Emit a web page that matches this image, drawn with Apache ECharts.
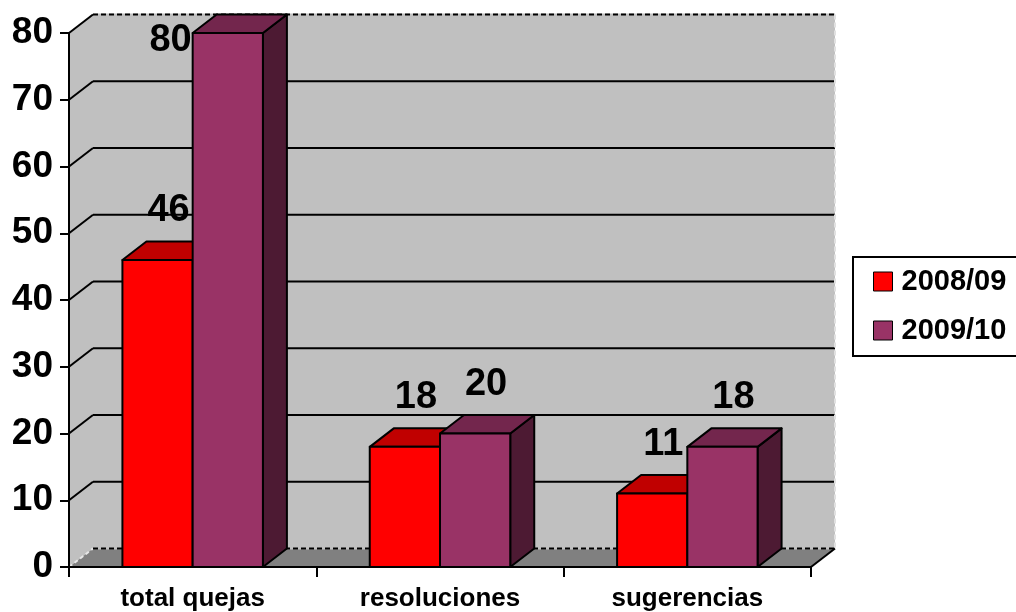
<!DOCTYPE html>
<html>
<head>
<meta charset="utf-8">
<script src="https://cdn.jsdelivr.net/npm/echarts@6/dist/echarts.min.js"></script>
<style>
  html, body { margin: 0; padding: 0; background: #ffffff; }
  #chart { width: 1016px; height: 612px; }
</style>
</head>
<body>
<div id="chart"></div>
<script>
// ---- data ----
const categories = ['total quejas', 'resoluciones', 'sugerencias'];
const seriesNames = ['2008/09', '2009/10'];
const values0809 = [46, 18, 11];
const values0910 = [80, 20, 18];
const yTicks = [0, 10, 20, 30, 40, 50, 60, 70, 80];

// ---- style ----
const FONT = "'Liberation Sans', Arial, Helvetica, sans-serif";
const DX = 24;       // depth offset of the back plane, x
const DY = -18.5;    // depth offset of the back plane, y
const BAR_SHARE = 0.284; // width of one bar as a share of the category band

const palettes = [
  { front: '#ff0000', top: '#c00000', side: '#800000' },
  { front: '#993366', top: '#73264d', side: '#4d1a33' }
];

const chart = echarts.init(document.getElementById('chart'), null, { renderer: 'canvas' });

// walls, floor and gridlines of the 3-D box
function renderRoom(params, api) {
  const cs = params.coordSys;
  const L = cs.x, R = cs.x + cs.width;
  const yOf = v => api.coord([0, v])[1];
  const vMax = yTicks[yTicks.length - 1];
  const y0 = yOf(0), yM = yOf(vMax);
  const kids = [];

  kids.push({ type: 'polygon', shape: { points: [[L + DX, yM + DY], [R + DX, yM + DY], [R + DX, y0 + DY], [L + DX, y0 + DY]] },
              style: { fill: '#c0c0c0' } });
  kids.push({ type: 'polygon', shape: { points: [[L, y0], [L + DX, y0 + DY], [L + DX, yM + DY], [L, yM]] },
              style: { fill: '#c0c0c0' } });
  kids.push({ type: 'polygon', shape: { points: [[L, y0], [R, y0], [R + DX, y0 + DY], [L + DX, y0 + DY]] },
              style: { fill: '#808080' } });

  yTicks.forEach(v => {
    const y = yOf(v);
    if (v > 0 && v < vMax) {
      kids.push({ type: 'line', shape: { x1: L + DX, y1: y + DY, x2: R + DX, y2: y + DY },
                  style: { stroke: '#000', lineWidth: 2 } });
    }
    if (v > 0) {
      kids.push({ type: 'line', shape: { x1: L, y1: y, x2: L + DX, y2: y + DY },
                  style: { stroke: '#000', lineWidth: 2 } });
    } else {
      kids.push({ type: 'line', shape: { x1: L, y1: y, x2: L + DX, y2: y + DY },
                  style: { stroke: '#e8e8e8', lineWidth: 2, lineDash: [4, 3] } });
    }
  });

  // dashed top and right edges of the back wall, dashed back edge of the floor
  kids.push({ type: 'line', shape: { x1: L + DX, y1: yM + DY, x2: R + DX, y2: yM + DY },
              style: { stroke: '#c0c0c0', lineWidth: 2 } });
  kids.push({ type: 'line', shape: { x1: L + DX, y1: yM + DY, x2: R + DX, y2: yM + DY },
              style: { stroke: '#000', lineWidth: 2, lineDash: [5, 3] } });
  kids.push({ type: 'line', shape: { x1: R + DX, y1: yM + DY, x2: R + DX, y2: y0 + DY },
              style: { stroke: '#e0e0e0', lineWidth: 2, lineDash: [5, 3] } });
  kids.push({ type: 'line', shape: { x1: L + DX, y1: y0 + DY, x2: R + DX, y2: y0 + DY },
              style: { stroke: '#c0c0c0', lineWidth: 2 } });
  kids.push({ type: 'line', shape: { x1: L + DX, y1: y0 + DY, x2: R + DX, y2: y0 + DY },
              style: { stroke: '#000', lineWidth: 2, lineDash: [5, 3] } });
  kids.push({ type: 'line', shape: { x1: R, y1: y0, x2: R + DX, y2: y0 + DY },
              style: { stroke: '#000', lineWidth: 2 } });

  return { type: 'group', children: kids };
}

// one 3-D bar with its value label
function barRenderer(si) {
  return function (params, api) {
    const cat = api.value(0), val = api.value(1);
    const band = api.size([1, 0])[0];
    const w = band * BAR_SHARE;
    const c = api.coord([cat, val]);
    const base = api.coord([cat, 0])[1];
    const x0 = si === 0 ? c[0] - w : c[0];
    const x1 = x0 + w;
    const yt = c[1];
    const pal = palettes[si];
    const edge = { stroke: '#000', lineWidth: 2, lineJoin: 'round' };

    const side = { type: 'polygon',
      shape: { points: [[x1, yt], [x1 + DX, yt + DY], [x1 + DX, base + DY], [x1, base]] },
      style: Object.assign({ fill: pal.side }, edge) };
    const top = { type: 'polygon',
      shape: { points: [[x0, yt], [x1, yt], [x1 + DX, yt + DY], [x0 + DX, yt + DY]] },
      style: Object.assign({ fill: pal.top }, edge) };
    const front = { type: 'rect',
      shape: { x: x0, y: yt, width: w, height: base - yt },
      style: Object.assign({ fill: pal.front }, edge) };

    // label sits above the bar; if it would leave the box, it moves beside the bar
    const boxTop = params.coordSys.y + DY;
    let lx = x0 + w / 2 + 11, ly = yt - 49, align = 'center';
    if (ly - 14 < boxTop) { lx = x0 - 1; ly = yt + 8; align = 'right'; }
    const label = { type: 'text', z2: 20,
      style: { text: String(val), x: lx, y: ly, align: align, verticalAlign: 'middle',
               fontFamily: FONT, fontWeight: 'bold', fontSize: 38, fill: '#000' } };

    return { type: 'group', children: [side, top, front, label] };
  };
}

const axisLabelStyle = { color: '#000', fontFamily: FONT, fontWeight: 'bold' };

chart.setOption({
  animation: false,
  backgroundColor: '#ffffff',
  grid: { left: 69, right: 205, top: 33, bottom: 45, containLabel: false },
  legend: {
    data: seriesNames,
    orient: 'vertical',
    left: 853, top: 257,
    padding: [10, 40, 11, 20],
    itemGap: 20,
    itemWidth: 19, itemHeight: 19,
    icon: 'rect',
    borderColor: '#000', borderWidth: 2,
    itemStyle: { borderColor: '#000', borderWidth: 1 },
    textStyle: { color: '#000', fontFamily: FONT, fontWeight: 'bold', fontSize: 29, lineHeight: 29, padding: [0, 0, 0, 4] }
  },
  xAxis: {
    type: 'category',
    data: categories,
    z: 10,
    axisLine: { lineStyle: { color: '#000', width: 2 } },
    axisTick: { show: true, length: 10, lineStyle: { color: '#000', width: 2 } },
    axisLabel: Object.assign({ fontSize: 26, margin: 19 }, axisLabelStyle),
    splitLine: { show: false }
  },
  yAxis: {
    type: 'value',
    min: yTicks[0], max: yTicks[yTicks.length - 1], interval: yTicks[1] - yTicks[0],
    z: 10,
    axisLine: { show: true, lineStyle: { color: '#000', width: 2 } },
    axisTick: { show: true, length: 9, lineStyle: { color: '#000', width: 2 } },
    axisLabel: Object.assign({ fontSize: 37, margin: 16 }, axisLabelStyle),
    splitLine: { show: false }
  },
  series: [
    { type: 'custom', name: 'room', silent: true, clip: false, z: 1,
      renderItem: renderRoom, data: [[0, 0]] },
    { type: 'custom', name: seriesNames[0], clip: false, z: 2,
      itemStyle: { color: palettes[0].front },
      renderItem: barRenderer(0),
      data: categories.map((c, i) => [i, values0809[i]]) },
    { type: 'custom', name: seriesNames[1], clip: false, z: 3,
      itemStyle: { color: palettes[1].front },
      renderItem: barRenderer(1),
      data: categories.map((c, i) => [i, values0910[i]]) }
  ]
});
</script>
</body>
</html>
